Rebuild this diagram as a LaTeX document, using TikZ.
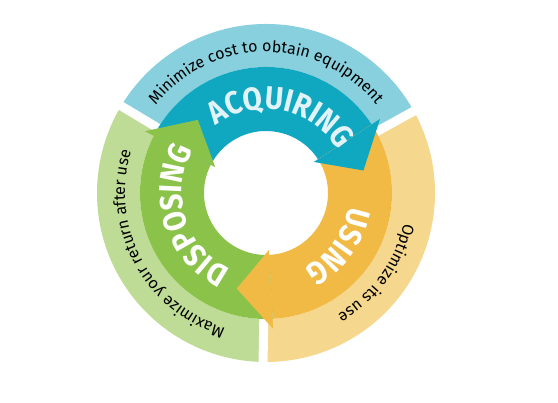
\documentclass[tikz,border=0pt]{standalone}
\usepackage{fontspec}
\setmainfont{Fira Sans}
\newfontfamily\bandfont[FakeStretch=0.88]{Fira Sans}
\newfontfamily\ringfont{Fira Sans}
\usetikzlibrary{decorations.text}
\definecolor{acqdark}{HTML}{10A7C1}
\definecolor{acqlight}{HTML}{88D0DD}
\definecolor{usedark}{HTML}{F1BA44}
\definecolor{uselight}{HTML}{F6D78E}
\definecolor{dispdark}{HTML}{8BC34A}
\definecolor{displight}{HTML}{BEDC96}
\definecolor{acqtext}{HTML}{E2F3F7}
\tikzstyle{ringtext} = [decorate, decoration={text along path, text align=center}]
\tikzstyle{bandtext} = [decorate, decoration={text along path, text align=fit to path}]
\tikzstyle{gapline} = [draw=white, line width=9pt]

\begin{document}
\begin{tikzpicture}
\def\rin{62pt}
\def\rmid{126pt}
\def\rout{169pt}
\def\rhin{57pt}
\def\rhout{136pt}
\def\rtip{100pt}
\def\rtxt{141pt}
\def\rband{84pt}
\useasboundingbox (-266pt,-210pt) rectangle (292pt,193pt);
\coordinate (ctr) at (0,0);

% outer ring
\fill[acqlight] (149:\rout) arc[start angle=149, end angle=29, radius=\rout] -- (29:\rmid) arc[start angle=29, end angle=149, radius=\rmid] -- cycle;
\fill[uselight] (29:\rout) arc[start angle=29, end angle=-91, radius=\rout] -- (-91:\rmid) arc[start angle=-91, end angle=29, radius=\rmid] -- cycle;
\fill[displight] (-91:\rout) arc[start angle=-91, end angle=-211, radius=\rout] -- (-211:\rmid) arc[start angle=-211, end angle=-91, radius=\rmid] -- cycle;
\draw[gapline] (29:120pt) -- (29:176pt);
\draw[gapline] (149:120pt) -- (149:176pt);
\draw[gapline] (269:120pt) -- (269:176pt);

% arrow bands
\fill[acqdark] (153:\rmid) arc[start angle=153, end angle=33, radius=\rmid] -- (33:\rin) arc[start angle=33, end angle=153, radius=\rin] -- cycle;
\fill[usedark] (33:\rmid) arc[start angle=33, end angle=-87, radius=\rmid] -- (-87:\rin) arc[start angle=-87, end angle=33, radius=\rin] -- cycle;
\fill[dispdark] (-87:\rmid) arc[start angle=-87, end angle=-207, radius=\rmid] -- (-207:\rin) arc[start angle=-207, end angle=-87, radius=\rin] -- cycle;

% arrow heads
\fill[acqdark] (33:\rhin) -- (33:\rhout) -- (13:\rtip) -- cycle;
\fill[usedark] (-87:\rhin) -- (-87:\rhout) -- (-107:\rtip) -- cycle;
\fill[dispdark] (153:\rhin) -- (153:\rhout) -- (133:\rtip) -- cycle;

% texts
\path[ringtext, decoration={text={|\ringfont\fontsize{16}{19}\selectfont|Minimize cost to obtain equipment}}] (170:\rtxt) arc[start angle=170, end angle=10, radius=\rtxt];
\path[ringtext, decoration={text={|\ringfont\fontsize{16}{19}\selectfont|Optimize its use}}] (44:\rtxt) arc[start angle=44, end angle=-116, radius=\rtxt];
\path[ringtext, decoration={text={|\ringfont\fontsize{16}{19}\selectfont|Maximize your return after use}}] (288:\rtxt) arc[start angle=288, end angle=128, radius=\rtxt];
\path[bandtext, decoration={text={|\bandfont\bfseries\fontsize{32}{35}\selectfont\color{acqtext}|ACQUIRING}}] (127:\rband) arc[start angle=127, end angle=34, radius=\rband];
\path[bandtext, decoration={text={|\bandfont\bfseries\fontsize{32}{35}\selectfont\color{white}|USING}}] (-9:\rband) arc[start angle=-9, end angle=-62, radius=\rband];
\path[bandtext, decoration={text={|\bandfont\bfseries\fontsize{32}{35}\selectfont\color{white}|DISPOSING}}] (245:\rband) arc[start angle=245, end angle=153, radius=\rband];
\end{tikzpicture}
\end{document}
